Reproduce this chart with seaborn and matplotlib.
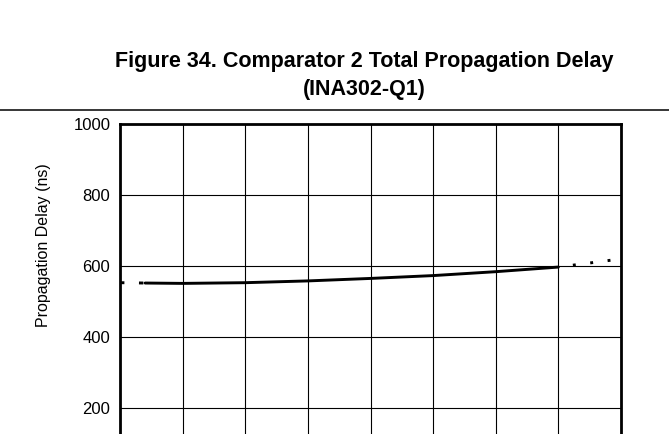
import matplotlib
matplotlib.use("Agg")
import matplotlib.pyplot as plt
from matplotlib.lines import Line2D
import seaborn as sns
import pandas as pd

# Comparator 2 total propagation delay versus temperature
temp_c = [-40, -25, 0, 25, 50, 75, 100, 125]
delay_ns = [552, 551, 553, 558, 565, 573, 584, 597]

# Extrapolated portions outside the specified range
temp_low = [-50, -40]
delay_low = [553, 552]
temp_high = [125, 150]
delay_high = [597, 620]

x_ticks = [-50, -25, 0, 25, 50, 75, 100, 125, 150]
y_ticks = [200, 400, 600, 800, 1000]
y_tick_labels = ["200", "400", "600", "800", "1000"]

title_lines = ["Figure 34. Comparator 2 Total Propagation Delay", "(INA302-Q1)"]
y_label = "Propagation Delay (ns)"

sns.set_theme(style="white")
plt.rcParams["font.family"] = ["Liberation Sans", "DejaVu Sans"]
plt.rcParams["text.color"] = "black"

fig = plt.figure(figsize=(6.69, 4.34), dpi=100)
ax = fig.add_axes([0.1794, -0.1037, 0.7489, 0.818])

main = pd.DataFrame({"temp": temp_c, "delay": delay_ns})
low = pd.DataFrame({"temp": temp_low, "delay": delay_low})
high = pd.DataFrame({"temp": temp_high, "delay": delay_high})

sns.lineplot(data=main, x="temp", y="delay", ax=ax, color="black", lw=2.1)
sns.lineplot(data=low, x="temp", y="delay", ax=ax, color="black", lw=2.1,
             linestyle=(0, (1.5, 5)))
sns.lineplot(data=high, x="temp", y="delay", ax=ax, color="black", lw=2.1,
             linestyle=(1, (1, 5)))

ax.set_xlim(-50, 150)
ax.set_ylim(0, 1000)
ax.set_xticks(x_ticks)
ax.set_yticks(y_ticks)
ax.set_yticklabels(y_tick_labels)
ax.tick_params(axis="both", length=0, labelsize=12, labelcolor="black")
ax.tick_params(axis="y", pad=7)
ax.tick_params(axis="x", labelbottom=False)
ax.set_xlabel("")
ax.set_ylabel(y_label, fontsize=11.5, color="black")
ax.yaxis.set_label_coords(-0.138, 0.659)

ax.grid(True, color="black", lw=0.8)
for sp in ax.spines.values():
    sp.set_visible(True)
    sp.set_color("black")
    sp.set_linewidth(2.0)

fig.text(0.544, 1 - 66.7 / 434, title_lines[0], ha="center", va="baseline",
         fontsize=15.5, fontweight="bold", color="black")
fig.text(0.544, 1 - 95 / 434, title_lines[1], ha="center", va="baseline",
         fontsize=15.5, fontweight="bold", color="black")

fig.add_artist(Line2D([0, 1], [1 - 110 / 434, 1 - 110 / 434],
                      transform=fig.transFigure, color="black", lw=1.1))

fig.savefig("out.png", dpi=100)
